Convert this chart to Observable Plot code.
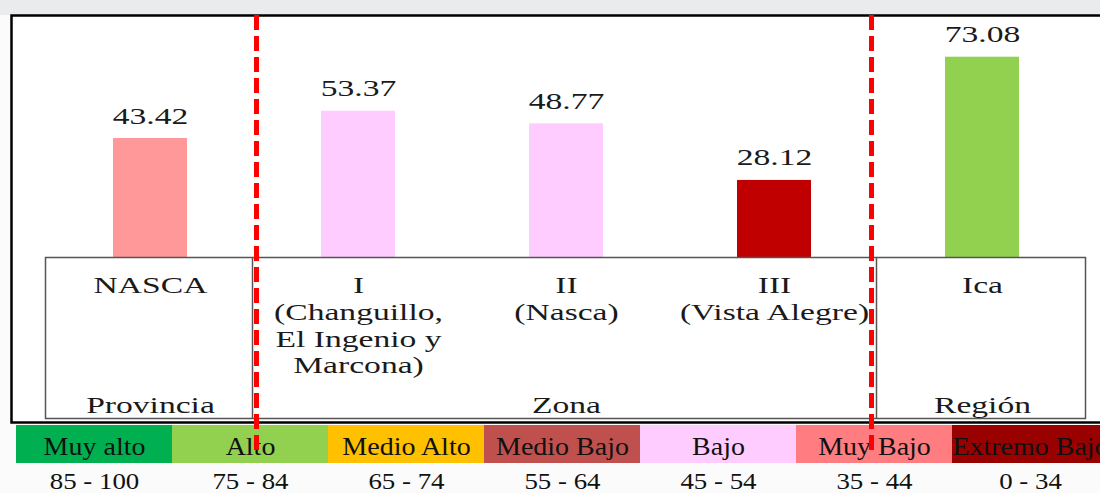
<!DOCTYPE html>
<html><head><meta charset="utf-8">
<script src="https://cdn.jsdelivr.net/npm/d3@7"></script>
<script src="https://cdn.jsdelivr.net/npm/@observablehq/plot@0.6"></script>
<style>
html,body{margin:0;padding:0;overflow:hidden;}
body{width:1100px;height:493px;background:linear-gradient(#e9ebed 0 15px,#fbfbfb 15px);}
#wrap{position:relative;width:1100px;height:493px;}
#wrap svg{position:absolute;left:0;top:0;}
</style></head><body><div id="wrap"></div>
<script>
// ---- data ----
const categories = ["NASCA", "I", "II", "III", "Ica"];
const categoryLabels = ["NASCA", "I\n(Changuillo,\nEl Ingenio y\nMarcona)", "II\n(Nasca)", "III\n(Vista Alegre)", "Ica"];
const values = [43.42, 53.37, 48.77, 28.12, 73.08];
const barColors = ["#FF9999", "#FFCCFF", "#FFCCFF", "#C00000", "#92D050"];
const groups = ["Provincia", "Zona", "Región"];
const groupAnchors = ["NASCA", "II", "Ica"];
const levels = ["Muy alto", "Alto", "Medio Alto", "Medio Bajo", "Bajo", "Muy Bajo", "Extremo Bajo"];
const levelRanges = ["85 - 100", "75 - 84", "65 - 74", "55 - 64", "45 - 54", "35 - 44", "0 - 34"];
const levelColors = ["#00B050", "#92D050", "#FFC000", "#C0504D", "#FFCCFF", "#FF7C80", "#990000"];

const rows = categories.map((c, i) => ({cat: c, label: categoryLabels[i], value: values[i], color: barColors[i]}));
const groupRows = groups.map((g, i) => ({group: g, anchor: groupAnchors[i]}));
const legendRows = levels.map((l, i) => ({level: l, range: levelRanges[i], color: levelColors[i]}));

const serif = "'Liberation Serif','Times New Roman',serif";

const legend = Plot.plot({
  width: 1100, height: 493, marginTop: 425, marginBottom: 0, marginLeft: 16, marginRight: 0,
  x: {type: "band", domain: levels, range: [16, 1108], padding: 0, axis: null},
  color: {type: "identity"},
  style: {background: "transparent", fontFamily: serif},
  marks: [
    Plot.cell(legendRows, {x: "level", fill: "color", insetBottom: 30}),
    Plot.text(legendRows, {x: "level", text: "level", frameAnchor: "top", lineAnchor: "bottom", dy: 29, fontSize: 25, fill: "#111"}),
    Plot.text(legendRows, {x: "level", text: "range", frameAnchor: "top", lineAnchor: "bottom", dy: 63, fontSize: 24, fill: "#111"})
  ]
});

const main = Plot.plot({
  width: 1100, height: 493, marginTop: 15, marginBottom: 236, marginLeft: 46, marginRight: 14,
  x: {type: "band", domain: categories, paddingInner: 0.644, paddingOuter: 0.322, axis: null},
  y: {domain: [0, 88.3], axis: null},
  color: {type: "identity"},
  style: {background: "transparent", fontFamily: serif},
  marks: [
    Plot.frame({fill: "white", stroke: "black", strokeWidth: 2.5, insetLeft: -35, insetRight: -30, insetBottom: -165}),
    Plot.barY(rows, {x: "cat", y: "value", fill: "color"}),
    Plot.text(rows, {x: "cat", y: "value", text: d => d.value.toFixed(2), dy: -15, lineAnchor: "bottom", fontSize: 24, fill: "#1a1a1a"}),
    Plot.frame({stroke: "#555", strokeWidth: 1.5, insetTop: 242, insetBottom: -161, insetLeft: -1, insetRight: 1}),
    Plot.ruleX(["I", "Ica"], {dx: -106, insetTop: 242, insetBottom: -161, stroke: "#555", strokeWidth: 1.5}),
    Plot.text(rows, {x: "cat", text: "label", frameAnchor: "bottom", lineAnchor: "top", dy: 17, lineHeight: 1.11, fontSize: 24, fill: "#1a1a1a"}),
    Plot.text(groupRows, {x: "anchor", text: "group", frameAnchor: "bottom", lineAnchor: "bottom", dy: 155, fontSize: 24, fill: "#1a1a1a"}),
    Plot.ruleX(["I"], {dx: -102, insetBottom: -198, stroke: "#FF0000", strokeWidth: 5, strokeDasharray: "15,6"}),
    Plot.ruleX(["Ica"], {dx: -111, insetBottom: -198, stroke: "#FF0000", strokeWidth: 5, strokeDasharray: "15,6"})
  ]
});

function stretch(svg, s) {
  d3.select(svg).selectAll("text").each(function () {
    const t = this.getAttribute("transform");
    if (t) this.setAttribute("transform", t + ` scale(${s},1)`);
  });
}
stretch(main, 1.4);
stretch(legend, 1.12);

const wrap = document.getElementById("wrap");
wrap.appendChild(legend);
wrap.appendChild(main);
</script>
</body></html>
